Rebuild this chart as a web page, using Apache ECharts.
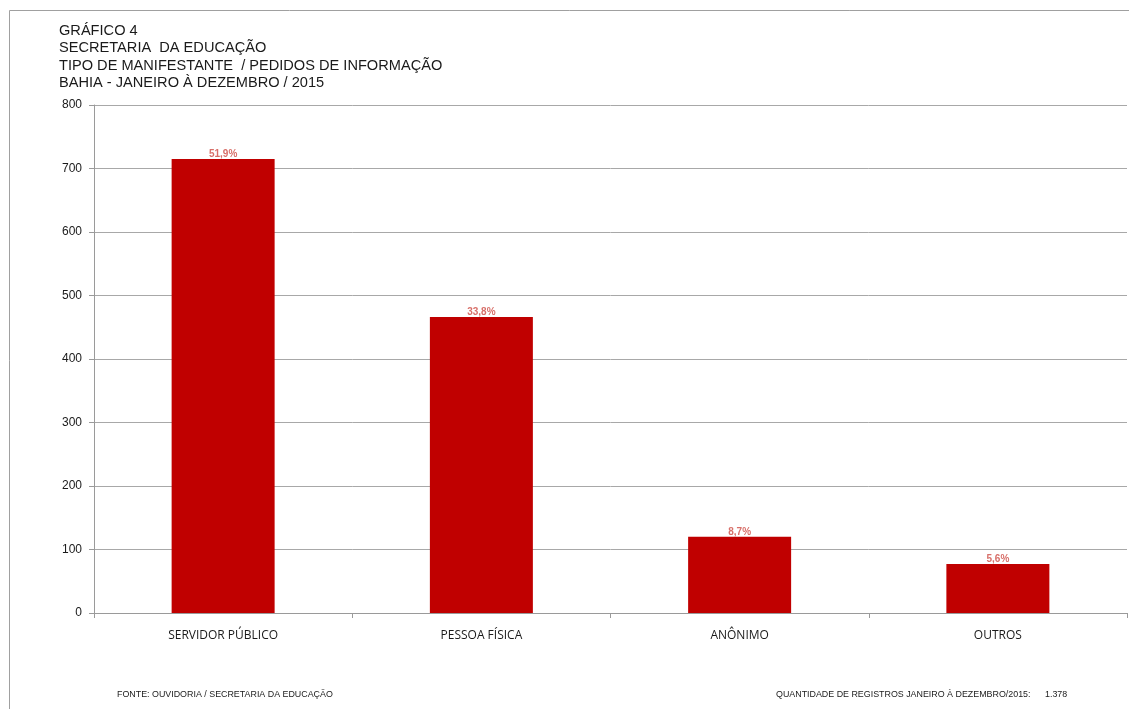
<!DOCTYPE html>
<html><head><meta charset="utf-8">
<script src="https://cdn.jsdelivr.net/npm/echarts@6/dist/echarts.min.js"></script>
<style>html,body{margin:0;padding:0;background:#fff}#c{width:1129px;height:709px}</style>
</head><body><div id="c"></div>
<script>
const categories = ['SERVIDOR PÚBLICO', 'PESSOA FÍSICA', 'ANÔNIMO', 'OUTROS'];
const values = [715, 466, 120, 77];
const percentLabels = ['51,9%', '33,8%', '8,7%', '5,6%'];
const titleLines = ['GRÁFICO 4', 'SECRETARIA  DA EDUCAÇÃO', 'TIPO DE MANIFESTANTE  / PEDIDOS DE INFORMAÇÃO', 'BAHIA - JANEIRO À DEZEMBRO / 2015'];
const footerLeft = 'FONTE: OUVIDORIA / SECRETARIA DA EDUCAÇÃO';
const footerRight = 'QUANTIDADE DE REGISTROS JANEIRO À DEZEMBRO/2015:';
const footerTotal = '1.378';

const chart = echarts.init(document.getElementById('c'));
const font = '"Liberation Sans", Arial, sans-serif';
chart.setOption({
  animation: false,
  backgroundColor: '#fff',
  graphic: [
    { type: 'polyline', shape: { points: [[9.5, 720], [9.5, 10.5], [1140, 10.5]] }, style: { stroke: '#a0a0a0', fill: null, lineWidth: 1 } },
    { type: 'text', left: 59, top: 22, style: { text: titleLines.join('\n'), font: '14.6px ' + font, fill: '#1a1a1a', lineHeight: 17.5 } },
    { type: 'text', left: 117, top: 690, style: { text: footerLeft, font: '8.9px ' + font, fill: '#1a1a1a' } },
    { type: 'text', left: 776, top: 690, style: { text: footerRight, font: '8.9px ' + font, fill: '#1a1a1a' } },
    { type: 'text', left: 1045, top: 690, style: { text: footerTotal, font: '8.9px ' + font, fill: '#1a1a1a' } }
  ],
  grid: { left: 94, right: 2, top: 105, bottom: 96, containLabel: false },
  xAxis: {
    type: 'category', data: categories,
    axisLine: { lineStyle: { color: '#9a9a9a' } },
    axisTick: { show: true, alignWithLabel: false, length: 5, lineStyle: { color: '#9a9a9a' } },
    axisLabel: { color: '#1a1a1a', fontFamily: '"Open Sans", "Noto Sans", sans-serif', fontSize: 12, margin: 17 }
  },
  yAxis: {
    type: 'value', min: 0, max: 800, interval: 100,
    axisLine: { show: true, lineStyle: { color: '#9a9a9a' } },
    axisTick: { show: true, inside: false, length: 5, lineStyle: { color: '#9a9a9a' } },
    axisLabel: { color: '#1a1a1a', fontFamily: font, fontSize: 12, margin: 12 },
    splitLine: { lineStyle: { color: '#a8a8a8', width: 1 } }
  },
  series: [{
    type: 'bar', data: values, barWidth: 103,
    itemStyle: { color: '#c00000' },
    label: {
      show: true, position: 'top', distance: 0,
      formatter: p => percentLabels[p.dataIndex],
      color: '#d8706a', fontFamily: font, fontSize: 10, fontWeight: 'bold'
    }
  }]
});
</script></body></html>
